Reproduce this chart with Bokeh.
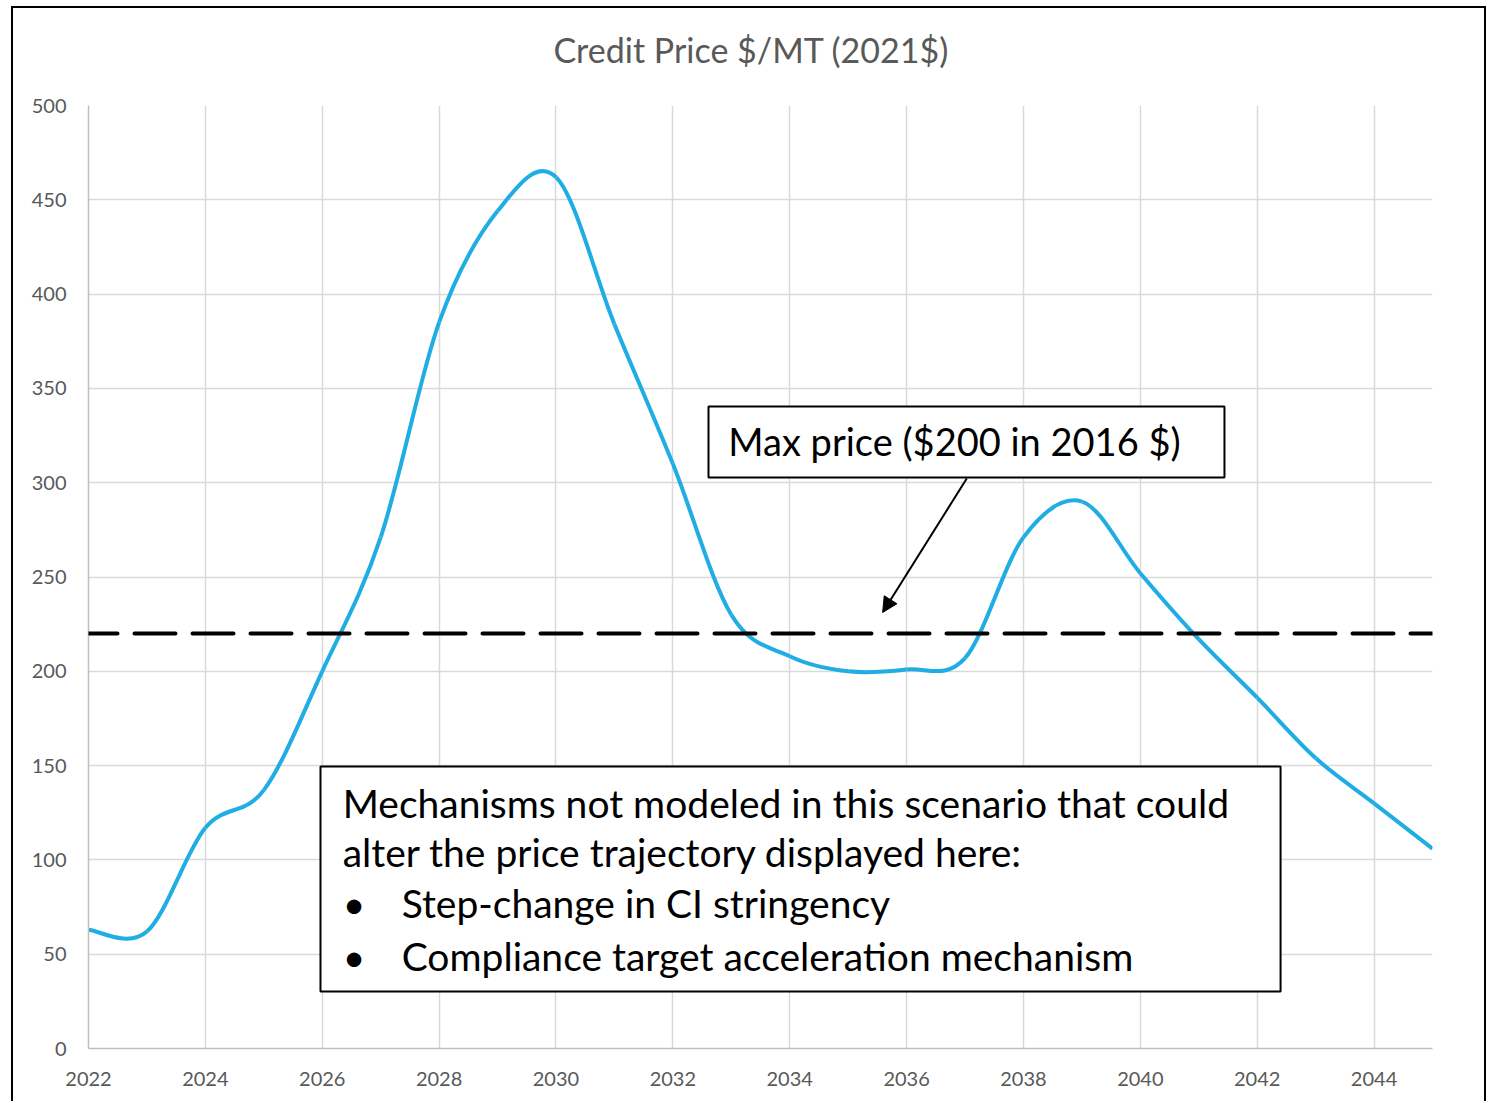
from bokeh.plotting import figure
from bokeh.models import (Range1d, FixedTicker, Span, Label, BoxAnnotation,
                          Arrow, NormalHead, ColumnDataSource, Title)
from bokeh.embed import file_html
from bokeh.resources import INLINE

# ---------------- data ----------------
years = list(range(2022, 2046))
price = [63, 62, 117, 137, 200, 271, 385, 444, 462, 384, 310, 230,
         208, 200, 201, 207, 271, 290, 252, 217, 186, 154, 130, 106]
max_price = 220
x_ticks = list(range(2022, 2045, 2))
y_ticks = list(range(0, 501, 50))

title_text = "Credit Price $/MT (2021$)"
note_max = "Max price ($200 in 2016 $)"
note_lines = ["Mechanisms not modeled in this scenario that could",
              "alter the price trajectory displayed here:"]
note_bullets = ["Step-change in CI stringency",
                "Compliance target acceleration mechanism"]

FONT = "Lato"
LINE_COLOR = "#1FADE4"

# smooth (Excel-like) curve through yearly points as cubic Bezier segments
n = len(years)
seg = dict(x0=[], y0=[], x1=[], y1=[], cx0=[], cy0=[], cx1=[], cy1=[])
for i in range(n - 1):
    a = i - 1 if i > 0 else i
    d = i + 2 if i + 2 < n else i + 1
    seg["x0"].append(years[i]); seg["y0"].append(price[i])
    seg["x1"].append(years[i + 1]); seg["y1"].append(price[i + 1])
    seg["cx0"].append(years[i] + (years[i + 1] - years[a]) / 6)
    seg["cy0"].append(price[i] + (price[i + 1] - price[a]) / 6)
    seg["cx1"].append(years[i + 1] - (years[d] - years[i]) / 6)
    seg["cy1"].append(price[i + 1] - (price[d] - price[i]) / 6)
src = ColumnDataSource(seg)

# ---------------- figure ----------------
p = figure(width=1475, height=1095, output_backend="svg", toolbar_location=None,
           x_range=Range1d(2022, 2045), y_range=Range1d(0, 500),
           min_border_left=75, min_border_right=56, min_border_top=97,
           min_border_bottom=55)
p.styles = {"margin-left": "11px", "margin-top": "6px",
            "border-left": "2px solid black",
            "border-top": "2px solid black", "border-right": "2px solid black"}
p.outline_line_color = None
p.background_fill_color = "white"
p.border_fill_color = "white"
p.title.text = ""

# spacer between frame and title, then the title itself
p.add_layout(Title(text=" ", text_font_size="2px", standoff=32), "above")
p.add_layout(Title(text=title_text, align="left", offset=465, standoff=0,
                   text_font=FONT, text_font_size="34px",
                   text_font_style="normal", text_color="#595959"), "above")

for ax in (p.xaxis[0], p.yaxis[0]):
    ax.major_tick_line_color = None
    ax.minor_tick_line_color = None
    ax.axis_line_color = "#BFBFBF"
    ax.axis_line_width = 1.5
    ax.major_label_text_font = FONT
    ax.major_label_text_font_size = "20px"
    ax.major_label_text_color = "#595959"
p.xaxis.ticker = FixedTicker(ticks=x_ticks)
p.yaxis.ticker = FixedTicker(ticks=y_ticks)
p.xaxis.major_label_standoff = 17
p.yaxis.major_label_standoff = 16

p.xgrid.ticker = FixedTicker(ticks=x_ticks)
p.ygrid.ticker = FixedTicker(ticks=y_ticks)
for g in (p.xgrid[0], p.ygrid[0]):
    g.grid_line_color = "#D9D9D9"
    g.grid_line_width = 1.5

# series
p.bezier(x0="x0", y0="y0", x1="x1", y1="y1", cx0="cx0", cy0="cy0",
         cx1="cx1", cy1="cy1", source=src, line_color=LINE_COLOR, line_width=4)

# max price dashed line
p.add_layout(Span(location=max_price, dimension="width", line_color="black",
                  line_width=4, line_dash="41 17", line_dash_offset=12,
                  line_cap="round"))

# max price callout
p.add_layout(BoxAnnotation(left=2032.61, right=2041.44, bottom=302.8, top=340.4,
                           fill_color="white", fill_alpha=1.0,
                           line_color="black", line_width=2, line_alpha=1.0))
p.add_layout(Label(x=2032.95, y=322.3, text=note_max, text_font=FONT,
                   text_font_size="38px", text_color="black",
                   text_align="left", text_baseline="alphabetic"))
p.add_layout(Arrow(end=NormalHead(size=15, fill_color="black", line_color="black"),
                   x_start=2037.03, y_start=302.2, x_end=2035.59, y_end=231.2,
                   line_color="black", line_width=2))

# mechanisms note box
p.add_layout(BoxAnnotation(left=2025.97, right=2042.40, bottom=30.2, top=149.5,
                           fill_color="white", fill_alpha=1.0,
                           line_color="black", line_width=2, line_alpha=1.0))
baselines = [130.4, 104.4, 76.9, 49.3]
for txt, yb in zip(note_lines, baselines[:2]):
    p.add_layout(Label(x=2026.35, y=yb, text=txt, text_font=FONT,
                       text_font_size="39px", text_color="black",
                       text_align="left", text_baseline="alphabetic"))
for txt, yb in zip(note_bullets, baselines[2:]):
    p.add_layout(Label(x=2026.35, y=yb, text="\u2022", text_font=FONT,
                       text_font_size="39px", text_color="black",
                       text_align="left", text_baseline="alphabetic"))
    p.add_layout(Label(x=2027.36, y=yb, text=txt, text_font=FONT,
                       text_font_size="39px", text_color="black",
                       text_align="left", text_baseline="alphabetic"))

open("out.html", "w").write(file_html(p, INLINE))
